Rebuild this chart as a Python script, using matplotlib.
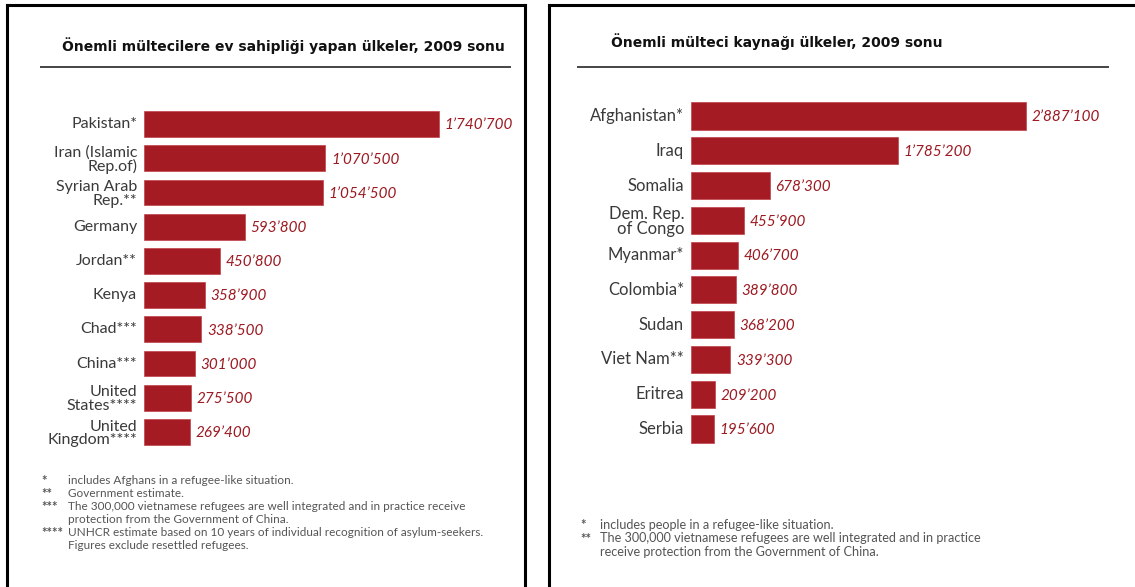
import matplotlib
matplotlib.use("Agg")
import matplotlib.pyplot as plt
from matplotlib.lines import Line2D

# veriler
host_countries = ["Pakistan*", "Iran (Islamic\nRep.of)", "Syrian Arab\nRep.**", "Germany",
                  "Jordan**", "Kenya", "Chad***", "China***", "United\nStates****",
                  "United\nKingdom****"]
host_values = [1740700, 1070500, 1054500, 593800, 450800, 358900, 338500, 301000, 275500, 269400]

origin_countries = ["Afghanistan*", "Iraq", "Somalia", "Dem. Rep.\nof Congo", "Myanmar*",
                    "Colombia*", "Sudan", "Viet Nam**", "Eritrea", "Serbia"]
origin_values = [2887100, 1785200, 678300, 455900, 406700, 389800, 368200, 339300, 209200, 195600]

host_title = "Önemli mültecilere ev sahipliği yapan ülkeler, 2009 sonu"
origin_title = "Önemli mülteci kaynağı ülkeler, 2009 sonu"

host_notes = [("*", "includes Afghans in a refugee-like situation."),
              ("**", "Government estimate."),
              ("***", "The 300,000 vietnamese refugees are well integrated and in practice receive"),
              ("", "protection from the Government of China."),
              ("****", "UNHCR estimate based on 10 years of individual recognition of asylum-seekers."),
              ("", "Figures exclude resettled refugees.")]
origin_notes = [("*", "includes people in a refugee-like situation."),
                ("**", "The 300,000 vietnamese refugees are well integrated and in practice"),
                ("", "receive protection from the Government of China.")]

W, H = 1135, 587
BAR = "#a51b24"
VAL = "#9c1a22"
TXT = "#3a3a3a"
NOTE = "#555555"

fig = plt.figure(figsize=(W / 100, H / 100), dpi=100)
fig.patch.set_facecolor("white")


def px_axes(x0, y0, x1, y1):
    # pixel kutusu (üstten) -> figure koordinatları
    return fig.add_axes([x0 / W, 1 - y1 / H, (x1 - x0) / W, (y1 - y0) / H])


def fmt(v):
    return f"{v:,}".replace(",", "\u2019")


def panel(names, values, bar_x0, px_per_unit, top, bottom, fs=11.5, label_gap=5, bar_h=0.76):
    x1 = bar_x0 + 440
    ax = px_axes(bar_x0, top, x1, bottom)
    ax.set_xlim(0, (x1 - bar_x0) / px_per_unit)
    ax.set_ylim(len(names) - 0.5, -0.5)
    ax.barh(range(len(names)), values, height=bar_h, color=BAR, edgecolor="#c04048", linewidth=0.5)
    ax.axis("off")
    for i, (n, v) in enumerate(zip(names, values)):
        ax.annotate(fmt(v), (v, i), xytext=(4, -1), textcoords="offset points",
                    ha="left", va="center", fontsize=11, style="italic",
                    color=VAL, family="Lato")
        ax.annotate(n, (0, i), xytext=(-label_gap, -1 if "\n" in n else 0),
                    textcoords="offset points",
                    ha="right", va="center", fontsize=fs, color=TXT,
                    family="Lato", linespacing=0.95)
    return ax


# çerçeveler
lw = 2.2
for x0, x1, right in [(7, 525, True), (549, W + 5, False)]:
    fig.add_artist(Line2D([x0 / W, x0 / W], [1 - 5 / H, 0], transform=fig.transFigure,
                          color="black", lw=lw))
    fig.add_artist(Line2D([x0 / W, x1 / W], [1 - 5 / H, 1 - 5 / H], transform=fig.transFigure,
                          color="black", lw=lw))
    if right:
        fig.add_artist(Line2D([x1 / W, x1 / W], [1 - 5 / H, 0], transform=fig.transFigure,
                              color="black", lw=lw))

# başlıklar ve çizgiler
fig.text(62 / W, 1 - 46 / H, host_title, fontsize=10, fontweight="bold", color="#111111",
         va="center", ha="left", family="DejaVu Sans")
fig.text(611 / W, 1 - 42 / H, origin_title, fontsize=10, fontweight="bold", color="#111111",
         va="center", ha="left", family="DejaVu Sans")
fig.add_artist(Line2D([41 / W, 510 / W], [1 - 67 / H] * 2, transform=fig.transFigure,
                      color="#444444", lw=1.4))
fig.add_artist(Line2D([578 / W, 1108 / W], [1 - 67 / H] * 2, transform=fig.transFigure,
                      color="#444444", lw=1.4))

panel(host_countries, host_values, 144, 295 / host_values[0], 107, 449)
panel(origin_countries, origin_values, 691, 335 / origin_values[0], 98.6, 446.4, fs=12, bar_h=0.78)

# dipnotlar
for k, (m, t) in enumerate(host_notes):
    y = 1 - (481 + k * 12.9) / H
    fig.text(41 / W, y, m, fontsize=9.5, color=NOTE, va="center", family="Lato",
             fontweight="bold")
    fig.text(68 / W, y, t, fontsize=8.5, color=NOTE, va="center", family="Lato")
for k, (m, t) in enumerate(origin_notes):
    y = 1 - (525 + k * 13.5) / H
    fig.text(580 / W, y, m, fontsize=9.5, color=NOTE, va="center", family="Lato",
             fontweight="bold")
    fig.text(600 / W, y, t, fontsize=9.1, color=NOTE, va="center", family="Lato")

fig.savefig("out.png", dpi=100, facecolor="white")
